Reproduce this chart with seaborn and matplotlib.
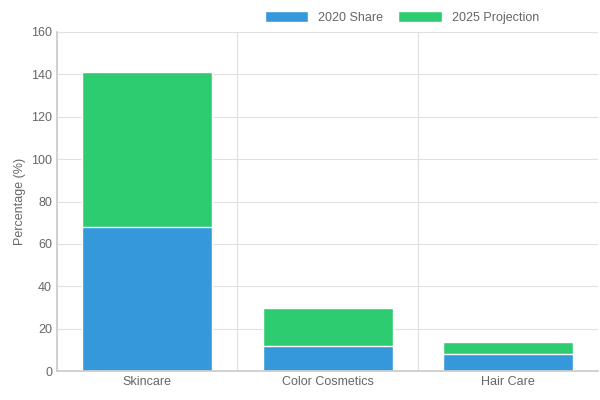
import matplotlib
matplotlib.use("Agg")
import matplotlib.pyplot as plt
import seaborn as sns
import pandas as pd

categories = ["Skincare", "Color Cosmetics", "Hair Care"]
share_2020 = [68, 12, 8]
proj_2025 = [73, 18, 6]

sns.set_theme(style="whitegrid")
plt.rcParams['font.family'] = ['Liberation Sans', 'DejaVu Sans']

fig = plt.figure(figsize=(6, 4), dpi=100)
ax = fig.add_axes([0.095, 0.072, 0.902, 0.848])

df = pd.DataFrame({"cat": categories, "a": share_2020, "b": proj_2025})
df["total"] = df["a"] + df["b"]
sns.barplot(data=df, x="cat", y="total", color="#2ecc71", width=0.72, ax=ax,
            saturation=1, label="2025 Projection")
sns.barplot(data=df, x="cat", y="a", color="#3498db", width=0.72, ax=ax,
            saturation=1, label="2020 Share")

ax.set_ylim(0, 160)
ax.set_yticks(range(0, 161, 20))
ax.set_xlim(-0.5, 2.5)
ax.set_xlabel("")
ax.set_ylabel("Percentage (%)", fontsize=9, color="#666666")
ax.tick_params(labelsize=9, colors="#666666", length=0)
ax.set_xticks([0, 1, 2])
ax.set_xticks([-0.5, 0.5, 1.5, 2.5], minor=True)
ax.grid(False, axis="x", which="major")
ax.grid(True, axis="x", which="minor", color="#e0e0e0", linewidth=0.8)
ax.grid(True, axis="y", color="#e0e0e0", linewidth=0.8)
for s in ["top", "right"]:
    ax.spines[s].set_visible(False)
for s in ["left", "bottom"]:
    ax.spines[s].set_color("#cccccc")

handles, labels = ax.get_legend_handles_labels()
order = [labels.index("2020 Share"), labels.index("2025 Projection")]
fig.legend([handles[i] for i in order], [labels[i] for i in order],
           loc="upper center", bbox_to_anchor=(0.67, 1.0), ncol=2, frameon=False,
           fontsize=9, handlelength=3.5, handleheight=1.0, columnspacing=1.2,
           labelcolor="#666666")
if ax.get_legend():
    ax.get_legend().remove()
fig.savefig("out.png", dpi=100)
